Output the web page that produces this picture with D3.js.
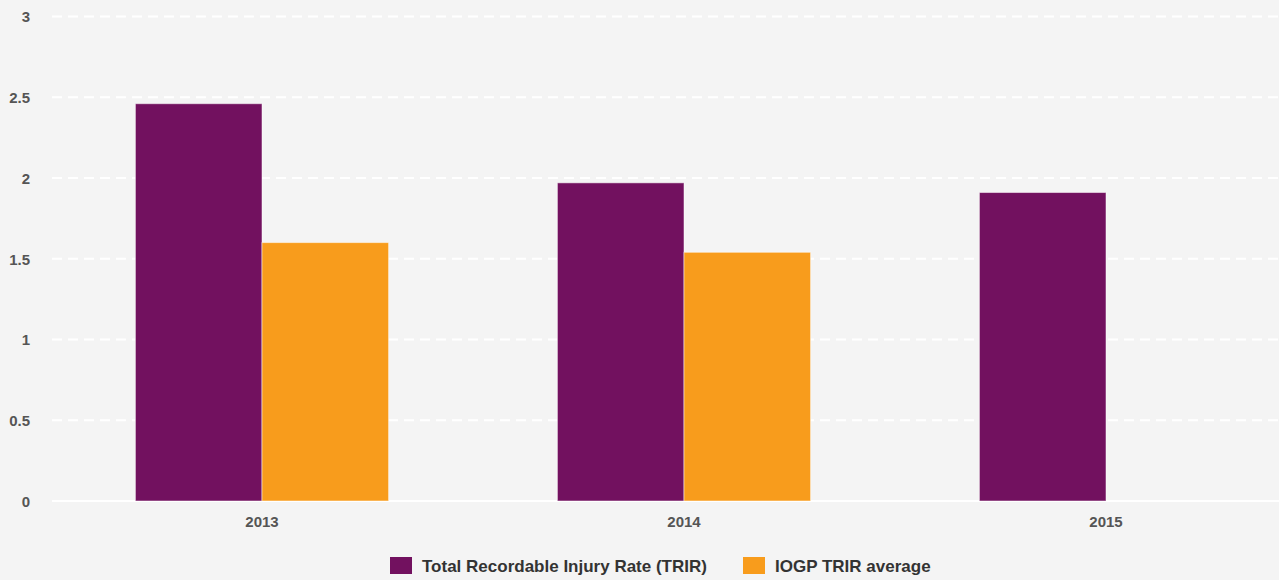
<!DOCTYPE html>
<html><head><meta charset="utf-8">
<script src="https://cdn.jsdelivr.net/npm/d3@7"></script>
<style>
html,body{margin:0;padding:0;background:#f4f4f4;overflow:hidden;}
svg{display:block;font-family:"Liberation Sans",Arial,sans-serif;}
</style></head><body>
<svg id="c" width="1279" height="580"></svg>
<script>
const categories = ["2013", "2014", "2015"];
const seriesNames = ["Total Recordable Injury Rate (TRIR)", "IOGP TRIR average"];
const trir = [2.46, 1.97, 1.91];
const iogp = [1.6, 1.54, null];
const yTicks = [0, 0.5, 1, 1.5, 2, 2.5, 3];
const colors = ["#72115f", "#f89c1c"];

const svg = d3.select("#c");
svg.append("rect").attr("width",1279).attr("height",580).attr("fill","#f4f4f4");

const y = d3.scaleLinear().domain([0,3]).range([501,16.5]);
const x0 = d3.scaleBand().domain(categories).range([51,1317]).paddingInner(0.4).paddingOuter(0.2);
const x1 = d3.scaleBand().domain([0,1]).range([0,x0.bandwidth()]);

// gridlines
const g = svg.append("g");
yTicks.forEach(t=>{
  g.append("line").attr("x1",52).attr("x2",1279).attr("y1",y(t)).attr("y2",y(t))
   .attr("stroke","#ffffff").attr("stroke-width",2)
   .attr("stroke-dasharray", t===0 ? null : "10,6");
});

// y labels
const yAxis = d3.axisLeft(y).tickValues(yTicks).tickSize(0).tickFormat(d3.format("~g"));
const ya = svg.append("g").attr("transform","translate(30,0)").call(yAxis);
ya.select(".domain").remove();
ya.selectAll("text").attr("fill","#555").attr("font-size",15).attr("font-weight","bold")
  .attr("font-family","'Liberation Sans',Arial,sans-serif").attr("x",0).attr("dy","0.36em");

// bars
const data = categories.map((c,i)=>({c, vals:[trir[i], iogp[i]]}));
const grp = svg.append("g").selectAll("g").data(data).join("g")
  .attr("transform",d=>`translate(${x0(d.c)},0)`);
grp.selectAll("rect").data(d=>d.vals.map((v,k)=>({v,k})).filter(e=>e.v!=null)).join("rect")
  .attr("x",e=>x1(e.k)).attr("width",x1.bandwidth())
  .attr("y",e=>y(e.v)).attr("height",e=>y(0)-y(e.v))
  .attr("fill",e=>colors[e.k]).attr("stroke","rgba(255,255,255,0.5)").attr("stroke-width",1);

// x labels
const xAxis = d3.axisBottom(x0).tickSize(0);
const xa = svg.append("g").attr("transform","translate(0,0)").call(xAxis);
xa.select(".domain").remove();
xa.selectAll("text").attr("fill","#555").attr("font-size",15).attr("font-weight","bold")
  .attr("font-family","'Liberation Sans',Arial,sans-serif").attr("y",527).attr("dy",null);

// legend
const legX = [390, 743];
const leg = svg.append("g");
seriesNames.forEach((n,i)=>{
  leg.append("rect").attr("x",legX[i]).attr("y",557).attr("width",22).attr("height",17).attr("fill",colors[i]);
  leg.append("text").attr("x",legX[i]+32).attr("y",572).text(n)
    .attr("fill","#333").attr("font-size",17).attr("font-weight","bold");
});
</script>
</body></html>
